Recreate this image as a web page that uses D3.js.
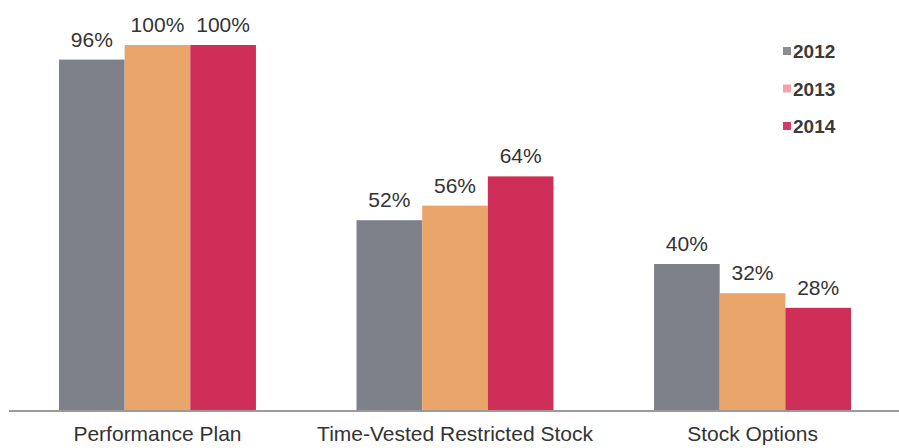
<!DOCTYPE html>
<html>
<head>
<meta charset="utf-8">
<script src="https://cdn.jsdelivr.net/npm/d3@7"></script>
<style>
  html, body { margin: 0; padding: 0; background: #fff; }
  svg { display: block; font-family: "Liberation Sans", Arial, sans-serif; }
</style>
</head>
<body>
<svg id="chart" width="899" height="448"></svg>
<script>
const categories = ["Performance Plan", "Time-Vested Restricted Stock", "Stock Options"];
const years = ["2012", "2013", "2014"];
const values2012 = [96, 52, 40];
const values2013 = [100, 56, 32];
const values2014 = [100, 64, 28];
const barColors = ["#7f818a", "#e9a56a", "#cf2e58"];
const legendColors = ["#8c8d93", "#f2a3aa", "#d43b6b"];

const seriesValues = [values2012, values2013, values2014];
const data = categories.map((c, i) => ({
  category: c,
  values: years.map((y, j) => ({ year: y, value: seriesValues[j][i], color: barColors[j] }))
}));

const svg = d3.select("#chart");
const baseY = 410;
const y = d3.scaleLinear().domain([0, 100]).range([baseY, 45]);
const x0 = d3.scaleBand().domain(categories).range([59, 851]).paddingInner(0.338).paddingOuter(0);
const x1 = d3.scaleBand().domain(years).range([0, x0.bandwidth()]).padding(0);

// baseline
svg.append("line")
  .attr("x1", 9).attr("x2", 899)
  .attr("y1", baseY + 1).attr("y2", baseY + 1)
  .attr("stroke", "#9a9a9a").attr("stroke-width", 2);

const groups = svg.selectAll("g.grp").data(data).enter().append("g")
  .attr("class", "grp")
  .attr("transform", d => `translate(${x0(d.category)},0)`);

groups.selectAll("rect").data(d => d.values).enter().append("rect")
  .attr("x", d => x1(d.year))
  .attr("width", x1.bandwidth())
  .attr("y", d => y(d.value))
  .attr("height", d => baseY - y(d.value))
  .attr("fill", d => d.color);

groups.selectAll("text.val").data(d => d.values).enter().append("text")
  .attr("class", "val")
  .attr("x", d => x1(d.year) + x1.bandwidth() / 2)
  .attr("y", d => y(d.value) - 13)
  .attr("text-anchor", "middle")
  .attr("font-size", 21)
  .attr("fill", "#333")
  .text(d => d.value + "%");

// category axis labels
const xAxis = d3.axisBottom(x0).tickSize(0).tickPadding(0);
const ax = svg.append("g").attr("transform", `translate(0,${baseY})`).call(xAxis);
ax.select(".domain").remove();
ax.selectAll("text")
  .attr("y", 31)
  .attr("dy", 0)
  .attr("font-size", 21)
  .attr("font-family", "\"Liberation Sans\", Arial, sans-serif")
  .attr("fill", "#333");

// legend
const legend = svg.append("g").attr("transform", "translate(783,0)");
const li = legend.selectAll("g").data(years).enter().append("g")
  .attr("transform", (d, i) => `translate(0,${51 + i * 37.5})`);
li.append("rect")
  .attr("x", 0).attr("y", -4).attr("width", 8).attr("height", 8)
  .attr("fill", (d, i) => legendColors[i]);
li.append("text")
  .attr("x", 10).attr("y", 7)
  .attr("font-size", 19).attr("font-weight", "bold")
  .attr("fill", "#3a3a3a")
  .text(d => d);
</script>
</body>
</html>
